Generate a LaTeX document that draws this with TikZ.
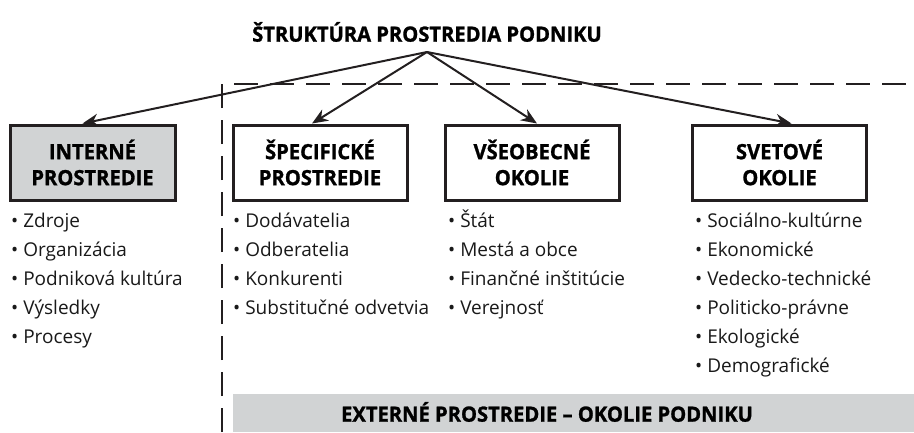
\documentclass[tikz,border=0pt]{standalone}
\usepackage{fontspec}
\setmainfont{Open Sans}
\newfontfamily\headfont[FakeStretch=0.96, FakeBold=1.2]{Open Sans}
\usetikzlibrary{arrows.meta, positioning, calc}
\definecolor{envgray}{RGB}{209, 211, 212}
\definecolor{envline}{RGB}{35, 31, 32}
\tikzset{
  % Environment box (title of one part of the environment).
  envbox/.style={
    rectangle, draw=envline, line width=3pt,
    minimum width=174pt, minimum height=75pt,
    inner sep=0pt, align=center,
    font=\headfont\bfseries\fontsize{21}{26}\selectfont,
    text=black,
  },
  envbox-gray/.style={envbox, fill=envgray, minimum width=165pt},
  % One bullet line under a box.
  listitem/.style={
    anchor=base west, inner sep=0pt,
    font=\fontsize{19}{23}\selectfont, text=black!90,
  },
  % Arrows from the title.
  branch/.style={
    -{Stealth[length=16pt, width=13pt]},
    line width=2pt, draw=envline,
  },
  % Border of the external environment.
  extline/.style={
    draw=envline, line width=2.4pt,
    dash pattern=on 24pt off 12pt,
  },
  headtext/.style={font=\headfont\bfseries\fontsize{21}{24}\selectfont, inner sep=0pt},
}
\begin{document}
\begin{tikzpicture}[x=1pt, y=-1pt]
  \useasboundingbox (0, 0) rectangle (914, 432);

  % Title and the point the arrows leave from.
  \node[headtext] (title) at (427, 32) {ŠTRUKTÚRA PROSTREDIA PODNIKU};
  \coordinate (apex) at (427, 52);

  % External environment: bar at the bottom and dashed frame.
  \fill[envgray] (233, 394) rectangle (914, 432);
  \node[headtext] (extlabel) at (547, 412) {EXTERNÉ PROSTREDIE – OKOLIE PODNIKU};
  \coordinate (ext-bl) at (222, 432);
  \coordinate (ext-tr) at (914, 84);
  \draw[extline] (ext-bl) |- (ext-tr);

  % The four boxes.
  \node[envbox-gray] (int)   at (92.5, 162.5) {INTERNÉ\\PROSTREDIE};
  \node[envbox]      (spec)  at (320, 162.5)  {ŠPECIFICKÉ\\PROSTREDIE};
  \node[envbox]      (gen)   at (532, 162.5)  {VŠEOBECNÉ\\OKOLIE};
  \node[envbox]      (world) at (779.5, 162.5) {SVETOVÉ\\OKOLIE};

  \draw[branch] (apex) -- ([xshift=-10pt]int.north);
  \draw[branch] (apex) -- ([xshift=-8pt]spec.north);
  \draw[branch] (apex) -- ([xshift=5pt]gen.north);
  \draw[branch] (apex) -- ([xshift=12pt]world.north);

  % Lists under the boxes.
  \foreach \t [count=\i] in {Zdroje, Organizácia, Podniková kultúra, Výsledky, Procesy}
    \node[listitem] (int-\i) at (11, 227+29*\i-29) {•\ \t};
  \foreach \t [count=\i] in {Dodávatelia, Odberatelia, Konkurenti, Substitučné odvetvia}
    \node[listitem] (spec-\i) at (233, 227+29*\i-29) {•\ \t};
  \foreach \t [count=\i] in {Štát, Mestá a obce, Finančné inštitúcie, Verejnosť}
    \node[listitem] (gen-\i) at (448, 227+29*\i-29) {•\ \t};
  \foreach \t [count=\i] in {Sociálno-kultúrne, Ekonomické, Vedecko-technické, Politicko-právne, Ekologické, Demografické}
    \node[listitem] (world-\i) at (695, 227+29*\i-29) {•\ \t};

\end{tikzpicture}
\end{document}
